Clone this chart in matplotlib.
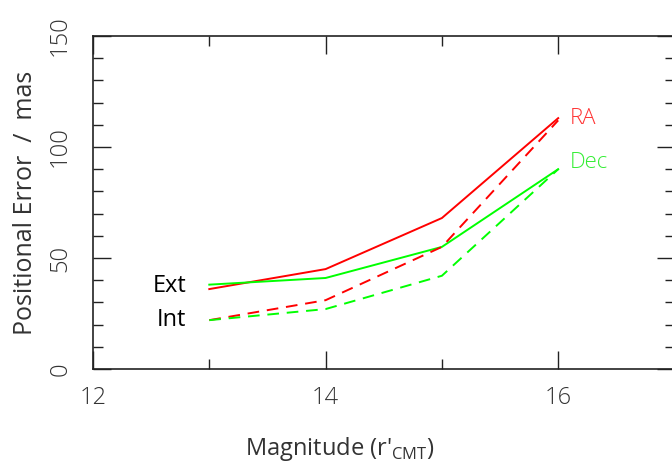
import numpy as np
import matplotlib.pyplot as plt

# magnitudes and positional errors (mas)
mag = [13, 14, 15, 16]
ra_ext = [36, 45, 68, 113]
dec_ext = [38, 41, 55, 90]
ra_int = [22, 31, 55, 112]
dec_int = [22, 27, 42, 90]

plt.rcParams['font.family'] = ['Open Sans', 'DejaVu Sans']
plt.rcParams['font.weight'] = 'light'

fig = plt.figure(figsize=(6.72, 4.66), dpi=100)
ax = fig.add_axes([93/672, 97/466, 581.5/672, 333/466])

ax.plot(mag, ra_ext, color='#ff0000', lw=1.4)
ax.plot(mag, dec_ext, color='#00ff00', lw=1.4)
ax.plot(mag, ra_int, color='#ff0000', lw=1.4, ls=(0, (6, 4)))
ax.plot(mag, dec_int, color='#00ff00', lw=1.4, ls=(0, (6, 4)))

ax.set_xlim(12, 17)
ax.set_ylim(0, 150)
ax.set_xticks([12, 14, 16])
ax.set_xticks([13, 15, 17], minor=True)
ax.set_yticks([0, 50, 100, 150])
ax.set_yticks(np.arange(0, 151, 10), minor=True)

txtc = '#333333'
ax.tick_params(which='both', direction='in', top=True, right=True,
               colors='#222222', labelcolor=txtc, labelsize=17)
ax.tick_params(which='major', length=13, width=1.0)
ax.tick_params(which='minor', length=7, width=1.0)
ax.tick_params(axis='x', which='major', pad=12)
ax.tick_params(axis='y', which='major', pad=15)
for lab in ax.get_yticklabels():
    lab.set_rotation(90)
    lab.set_va('center')
for s in ax.spines.values():
    s.set_linewidth(1.2)
    s.set_color('#222222')

ax.set_xlabel("Magnitude (r'$_{\\mathregular{CMT}}$)", fontsize=17, color=txtc)
ax.xaxis.set_label_coords((340 - 93) / 581.5, (369 - 435) / 333)
ax.set_ylabel('Positional Error  /  mas', fontsize=18, color=txtc)
ax.yaxis.set_label_coords((38 - 93) / 581.5, 0.5)

ax.text(12.8, 37.5, 'Ext', fontsize=17, fontweight='normal', ha='right', va='center', color='black')
ax.text(12.8, 22, 'Int', fontsize=17, fontweight='normal', ha='right', va='center', color='black')
ax.text(16.1, 113, 'RA', fontsize=16, ha='left', va='center', color='#ff3333')
ax.text(16.1, 93, 'Dec', fontsize=16, ha='left', va='center', color='#33ee33')

fig.savefig('out.png', dpi=100)
